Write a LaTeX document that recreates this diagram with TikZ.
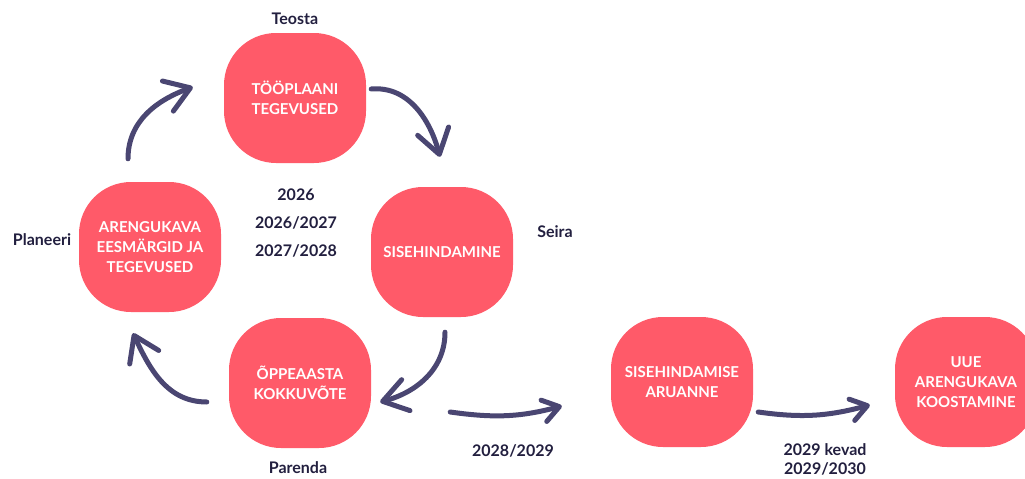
\documentclass[tikz,border=0pt]{standalone}
\usepackage{fontspec}
\setmainfont{Lato}
\usepackage{tikz}
\usetikzlibrary{calc,arrows.meta}
\definecolor{boxred}{RGB}{255,90,105}
\definecolor{arrowblue}{RGB}{74,70,114}
\definecolor{labelblue}{RGB}{34,31,63}
\tikzset{
  box/.style={fill=boxred,rounded corners=52pt,minimum width=142pt,minimum height=130pt,inner sep=0pt,
    text=white,align=center,font=\fontsize{15}{20}\selectfont\bfseries},
  lbl/.style={text=labelblue,align=center,font=\fontsize{16}{28}\selectfont\bfseries},
  cyc/.style={arrowblue,line width=5pt,line cap=round,-{Straight Barb[length=24pt,width=32pt,round]}},
  fwd/.style={arrowblue,line width=5pt,line cap=round,-{Straight Barb[length=16pt,width=22pt,round]}}
}

\begin{document}
\begin{tikzpicture}[x=1pt,y=-1pt]
                      \clip(0,0)rectangle(1025,479);
                      \node[box](tyo)at(295,98){TÖÖPLAANI\\TEGEVUSED};
                      \node[box](aren)at(150,247){ARENGUKAVA\\EESMÄRGID JA\\TEGEVUSED};
                      \node[box](sise)at(442,252){SISEHINDAMINE};
                      \node[box](opp)at(300,383){ÕPPEAASTA\\KOKKUVÕTE};
                      \node[box](aru)at(682,382){SISEHINDAMISE\\ARUANNE};
                      \node[box](uue)at(966,382){UUE\\ARENGUKAVA\\KOOSTAMINE};
                      \node[lbl](teosta)at(295,19){Teosta};
                      \node[lbl](planeeri)at(42,240){Planeeri};
                      \node[lbl](seira)at(555,232){Seira};
                      \node[lbl](parenda)at(298,468){Parenda};
                      \node[lbl](aastad)at(296,223){2026\\2026/2027\\2027/2028};
                      \node[lbl](a2028)at(513,451){2028/2029};
                      \node[lbl,font=\fontsize{16}{19}\selectfont\bfseries](a2029)at(825,459){2029 kevad\\2029/2030};
                      \draw[cyc]([xshift=-22pt,yshift=23pt]aren.north)to[out=90,in=200]([xshift=-31pt,yshift=11pt]tyo.west);
                      \draw[cyc]([xshift=5pt,yshift=9pt]tyo.east)to[out=5,in=105]([xshift=-2pt,yshift=30pt]sise.north);
                      \draw[cyc]([xshift=3pt,yshift=-15pt]sise.south)to[out=-90,in=15]([xshift=9pt,yshift=-19pt]opp.east);
                      \draw[cyc]([xshift=-22pt,yshift=-19pt]opp.west)to[out=180,in=-65]([xshift=-17pt,yshift=-21pt]aren.south);
                      \draw[fwd]([xshift=79pt,yshift=-29pt]opp.east)to[out=-8,in=195]([xshift=-49pt,yshift=-24pt]aru.west);
                      \draw[fwd]([xshift=5pt,yshift=-30pt]aru.east)to[out=-8,in=195]([xshift=-25pt,yshift=-23pt]uue.west);
                  \end{tikzpicture}
\end{document}
